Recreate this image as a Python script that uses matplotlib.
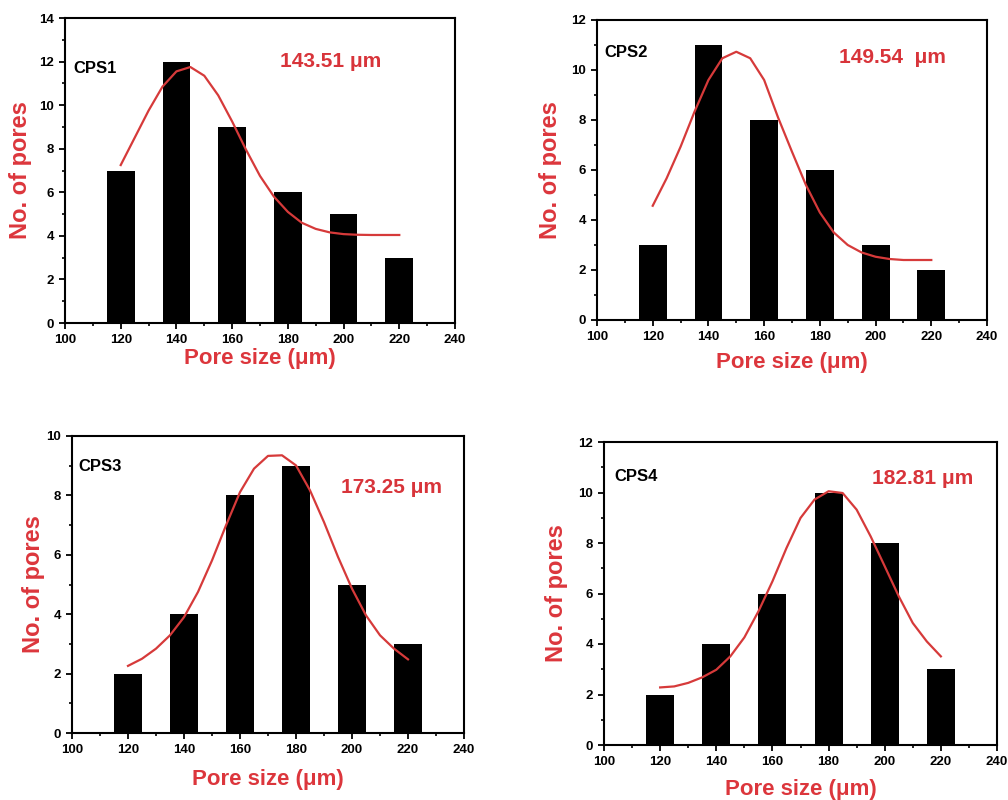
import matplotlib
matplotlib.use("Agg")
import matplotlib.pyplot as plt
from matplotlib.ticker import MultipleLocator

plt.rcParams['font.family'] = ['Liberation Sans', 'DejaVu Sans']
plt.rcParams['font.weight'] = 'bold'

RED = '#dc363c'

# bar data (pore size bins, counts)
sizes = [120, 140, 160, 180, 200, 220]
cps1 = [7, 12, 9, 6, 5, 3]
cps2 = [3, 11, 8, 6, 3, 2]
cps3 = [2, 4, 8, 9, 5, 3]
cps4 = [2, 4, 6, 10, 8, 3]

# fitted curves every 5 um
fit_x = [120, 125, 130, 135, 140, 145, 150, 155, 160, 165, 170,
         175, 180, 185, 190, 195, 200, 205, 210, 215, 220]
fit1 = [7.25, 8.5, 9.75, 10.85, 11.55, 11.75, 11.35, 10.45, 9.25, 7.95, 6.75,
        5.8, 5.1, 4.6, 4.32, 4.16, 4.08, 4.05, 4.04, 4.04, 4.04]
fit2 = [4.57, 5.67, 6.93, 8.33, 9.6, 10.47, 10.73, 10.47, 9.6, 8.1, 6.73,
        5.4, 4.3, 3.5, 3.0, 2.7, 2.53, 2.44, 2.4, 2.4, 2.4]
fit3 = [2.26, 2.5, 2.84, 3.29, 3.9, 4.75, 5.81, 6.99, 8.11, 8.9, 9.33,
        9.35, 9.01, 8.17, 7.1, 5.93, 4.86, 3.96, 3.29, 2.84, 2.48]
fit4 = [2.28, 2.32, 2.46, 2.68, 2.98, 3.51, 4.26, 5.29, 6.48, 7.8, 8.99,
        9.72, 10.05, 9.98, 9.32, 8.26, 7.08, 5.89, 4.83, 4.1, 3.51]

names = ['CPS1', 'CPS2', 'CPS3', 'CPS4']
means = ['143.51 \u03bcm', '149.54  \u03bcm', '173.25 \u03bcm', '182.81 \u03bcm']
ymax = [14, 12, 10, 12]

# axes boxes in pixels: left, top, right, bottom
boxes = [(65, 18, 455, 323), (597, 20, 987, 320),
         (72, 436, 464, 733), (604, 442, 997, 745)]
name_pos = [(103, 11.7), (102.5, 10.7), (102.1, 8.96), (103.6, 10.65)]
mean_pos = [(177, 12.0), (186.9, 10.5), (196, 8.28), (195.5, 10.57)]
ylab_x = [-0.085, -0.09, -0.07, -0.092]
xlab_y = [-0.082, -0.108, -0.122, -0.112]

counts = [cps1, cps2, cps3, cps4]
fits = [fit1, fit2, fit3, fit4]

W, H = 1008, 800
fig = plt.figure(figsize=(W / 100, H / 100), dpi=100)

for i in range(4):
    l, t, r, b = boxes[i]
    ax = fig.add_axes([l / W, 1 - b / H, (r - l) / W, (b - t) / H])
    ax.bar(sizes, counts[i], width=10, color='black', zorder=2)
    ax.plot(fit_x, fits[i], color='#d63a3a', lw=1.6, zorder=3,
            solid_joinstyle='round')
    ax.set_xlim(100, 240)
    ax.set_ylim(0, ymax[i])
    ax.xaxis.set_major_locator(MultipleLocator(20))
    ax.xaxis.set_minor_locator(MultipleLocator(10))
    ax.yaxis.set_major_locator(MultipleLocator(2))
    ax.yaxis.set_minor_locator(MultipleLocator(1))
    ax.tick_params(which='major', direction='out', length=4.5, width=1.3,
                   labelsize=9.5, pad=3.5)
    ax.tick_params(which='minor', direction='out', length=2.5, width=1.2)
    for lab in ax.get_xticklabels() + ax.get_yticklabels():
        lab.set_fontweight('bold')
    for s in ax.spines.values():
        s.set_linewidth(1.5)
    ax.set_xlabel('Pore size (\u03bcm)', color=RED, fontsize=16, fontweight='bold')
    ax.set_ylabel('No. of pores', color=RED, fontsize=17, fontweight='bold')
    ax.xaxis.set_label_coords(0.5, xlab_y[i])
    ax.yaxis.set_label_coords(ylab_x[i], 0.5)
    ax.text(name_pos[i][0], name_pos[i][1], names[i], fontsize=12,
            fontweight='bold', va='center', ha='left')
    ax.text(mean_pos[i][0], mean_pos[i][1], means[i], fontsize=15,
            fontweight='bold', color='#d8343a', va='center', ha='left')

fig.savefig('out.png', dpi=100)
